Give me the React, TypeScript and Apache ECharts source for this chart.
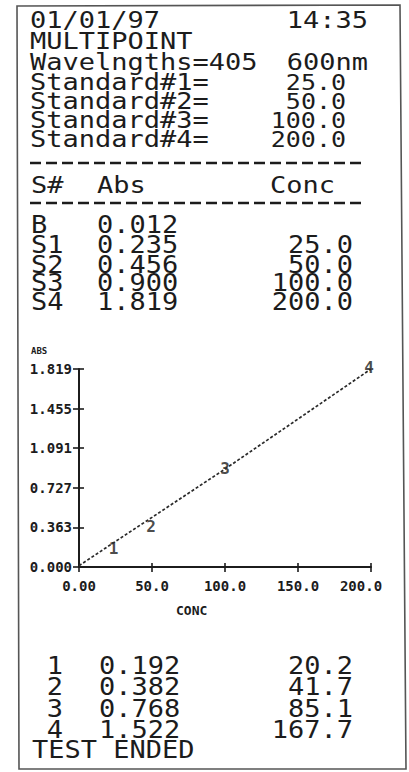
import React, { useEffect, useRef } from "react";
import * as echarts from "echarts";

// ---------- data ----------
const headerDate = "01/01/97";
const headerTime = "14:35";
const modeName = "MULTIPOINT";
const wavelengthLabel = "Wavelngths=405";
const wavelengthSecond = "600nm";
const standardNames = ["Standard#1=", "Standard#2=", "Standard#3=", "Standard#4="];
const standardConc = [25.0, 50.0, 100.0, 200.0];
const tableHeads = ["S#", "Abs", "Conc"];
const sampleIds = ["B", "S1", "S2", "S3", "S4"];
const sampleAbs = [0.012, 0.235, 0.456, 0.9, 1.819];
const sampleConc: (number | null)[] = [null, 25.0, 50.0, 100.0, 200.0];
const curveConc = [0, 25, 50, 100, 200];
const curveAbs = [0.012, 0.235, 0.456, 0.9, 1.819];
const pointNames = ["", "1", "2", "3", "4"];
const yTicks = [0, 0.363, 0.727, 1.091, 1.455, 1.819];
const xTicks = [0, 50, 100, 150, 200];
const xTickLabels = ["0.00", "50.0", "100.0", "150.0", "200.0"];
const yAxisName = "ABS";
const xAxisName = "CONC";
const testIds = ["1", "2", "3", "4"];
const testAbs = [0.192, 0.382, 0.768, 1.522];
const testConc = [20.2, 41.7, 85.1, 167.7];
const endText = "TEST ENDED";

// label nudges (style, not data)
const labelNudge: [number, number][] = [[0, 0], [-2, 7], [-1, 9], [0, -1], [-2, -2]];

const INK = "#1c1c1c";
const MONO = '"DejaVu Sans Mono", "Liberation Mono", monospace';

function txt(
  text: string,
  x: number,
  y: number,
  o: { size?: number; align?: string; sy?: number; weight?: string } = {}
) {
  return {
    type: "text",
    x,
    y,
    scaleY: o.sy ?? 0.86,
    silent: true,
    style: {
      text,
      fill: INK,
      fontFamily: MONO,
      fontSize: o.size ?? 27,
      fontWeight: o.weight ?? "normal",
      align: o.align ?? "left",
      verticalAlign: "middle",
    },
  };
}

function dash(y: number) {
  return {
    type: "line",
    silent: true,
    shape: { x1: 30, y1: y, x2: 364, y2: y },
    style: { stroke: INK, lineWidth: 2.6, lineDash: [11, 5] },
  };
}

export default function App() {
  const ref = useRef<HTMLDivElement>(null);

  useEffect(() => {
    if (!ref.current) return;
    const chart = echarts.init(ref.current, null, { renderer: "svg" });

    const graphics: any[] = [];
    // border
    graphics.push({
      type: "polygon",
      silent: true,
      shape: { points: [[17, 6], [400, 5], [406, 769], [19, 769]] },
      style: { fill: "none", stroke: "#555", lineWidth: 1.6 },
    });
    // header
    graphics.push(txt(headerDate, 30, 20));
    graphics.push(txt(headerTime, 368, 20, { align: "right" }));
    graphics.push(txt(modeName, 30, 41.5));
    graphics.push(txt(wavelengthLabel, 30, 62));
    graphics.push(txt(wavelengthSecond, 368, 62, { align: "right" }));
    const stdY = [82, 101, 120, 139];
    standardNames.forEach((n, i) => {
      graphics.push(txt(n, 30, stdY[i]));
      graphics.push(txt(standardConc[i].toFixed(1), 346, stdY[i], { align: "right", size: 25 }));
    });
    graphics.push(dash(163));
    graphics.push(txt(tableHeads[0], 31, 185));
    graphics.push(txt(tableHeads[1], 97, 185));
    graphics.push(txt(tableHeads[2], 270, 185));
    graphics.push(dash(203));
    const rowY = [224, 244, 264, 282, 301];
    sampleIds.forEach((id, i) => {
      graphics.push(txt(id, 31, rowY[i], { sy: 0.93 }));
      graphics.push(txt(sampleAbs[i].toFixed(3), 97, rowY[i], { sy: 0.93 }));
      const c = sampleConc[i];
      if (c !== null) graphics.push(txt(c.toFixed(1), 353, rowY[i], { align: "right", sy: 0.93 }));
    });
    // chart axis names
    graphics.push(txt(yAxisName, 31, 351, { size: 9, weight: "bold", sy: 1 }));
    graphics.push(txt(xAxisName, 176, 610, { size: 13, weight: "bold", sy: 1 }));
    // results
    const resY = [665, 686, 708, 729];
    testIds.forEach((id, i) => {
      graphics.push(txt(id, 55, resY[i], { align: "center", sy: 0.9 }));
      graphics.push(txt(testAbs[i].toFixed(3), 99, resY[i], { sy: 0.9 }));
      graphics.push(txt(testConc[i].toFixed(1), 353, resY[i], { align: "right", sy: 0.9 }));
    });
    graphics.push(txt(endText, 32, 749, { sy: 0.9 }));

    const tickFont = { fontFamily: MONO, fontWeight: "bold" as const, fontSize: 14, color: INK };
    const yMax = yTicks[yTicks.length - 1];
    const yStep = yMax / (yTicks.length - 1);
    const xMax = xTicks[xTicks.length - 1];
    const xStep = xTicks[1] - xTicks[0];
    const tickLine = { color: INK, width: 1.6 };
    const ghostLine = { show: true, onZero: false, lineStyle: { color: "rgba(0,0,0,0)" } };

    chart.setOption({
      animation: false,
      backgroundColor: "#ffffff",
      grid: { left: 79, top: 369, width: 292, height: 198 },
      xAxis: [
        {
          type: "value",
          min: 0,
          max: xMax,
          interval: xStep,
          position: "bottom",
          axisLine: { show: true, onZero: false, lineStyle: { color: INK, width: 2 } },
          axisTick: { show: true, length: 5, lineStyle: tickLine },
          axisLabel: {
            ...tickFont,
            margin: 12,
            formatter: (v: number) => {
              const i = xTicks.indexOf(v);
              const s = i >= 0 ? xTickLabels[i] : String(v);
              return i === xTicks.length - 1 ? `{last|${s}}` : s;
            },
            rich: { last: { ...tickFont, padding: [0, 20, 0, 0] } },
          },
          splitLine: { show: false },
        },
        {
          type: "value",
          min: 0,
          max: xMax,
          interval: xStep,
          position: "bottom",
          axisLine: ghostLine,
          axisTick: { show: true, inside: true, length: 4, lineStyle: tickLine },
          axisLabel: { show: false },
          splitLine: { show: false },
        },
      ],
      yAxis: [
        {
          type: "value",
          min: 0,
          max: yMax,
          interval: yStep,
          position: "left",
          axisLine: { show: true, onZero: false, lineStyle: { color: INK, width: 2 } },
          axisTick: { show: true, length: 6, lineStyle: tickLine },
          axisLabel: {
            ...tickFont,
            margin: 7,
            formatter: (v: number) => {
              let best = yTicks[0];
              yTicks.forEach((t) => {
                if (Math.abs(t - v) < Math.abs(best - v)) best = t;
              });
              return best.toFixed(3);
            },
          },
          splitLine: { show: false },
        },
        {
          type: "value",
          min: 0,
          max: yMax,
          interval: yStep,
          position: "left",
          axisLine: ghostLine,
          axisTick: { show: true, inside: true, length: 5, lineStyle: tickLine },
          axisLabel: { show: false },
          splitLine: { show: false },
        },
      ],
      series: [
        {
          type: "line",
          xAxisIndex: 0,
          yAxisIndex: 0,
          data: curveConc.map((c, i) => [c, curveAbs[i]]),
          symbol: "none",
          lineStyle: { color: "#2a2a2a", width: 1.7, type: [3, 2] },
          silent: true,
        },
        {
          type: "scatter",
          xAxisIndex: 0,
          yAxisIndex: 0,
          symbolSize: 1,
          itemStyle: { color: "rgba(0,0,0,0)" },
          silent: true,
          data: curveConc
            .map((c, i) => ({
              value: [c, curveAbs[i]],
              name: pointNames[i],
              label: { offset: labelNudge[i] },
            }))
            .filter((d) => d.name !== ""),
          label: {
            show: true,
            position: "inside",
            formatter: (p: any) => p.name,
            fontFamily: MONO,
            fontSize: 16,
            fontWeight: "bold",
            color: INK,
            textBorderWidth: 0,
            textBorderColor: "transparent",
          },
        },
      ],
      graphic: { elements: graphics },
    });

    return () => chart.dispose();
  }, []);

  return (
    <div
      ref={ref}
      style={{ position: "fixed", left: 0, top: 0, width: 409, height: 772, background: "#fff" }}
    />
  );
}
